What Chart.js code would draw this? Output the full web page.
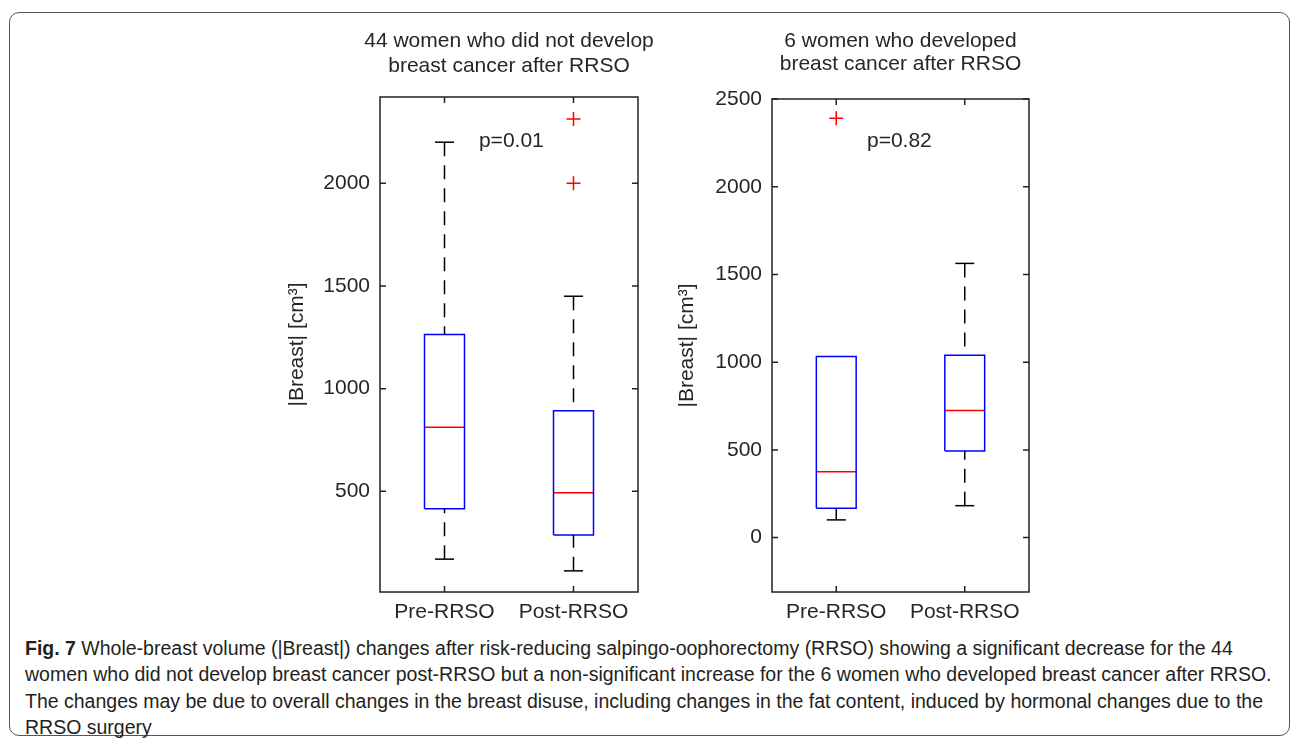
<!DOCTYPE html>
<html>
<head>
<meta charset="utf-8">
<script src="https://cdn.jsdelivr.net/npm/chart.js@4.4.1/dist/chart.umd.min.js"></script>
<style>
  body { margin: 0; background: #fff; width: 1295px; height: 742px; overflow: hidden; position: relative; }
  .frame { position: absolute; left: 9px; top: 12px; width: 1279px; height: 722px; border: 1.5px solid #555; border-radius: 10px; }
  canvas { position: absolute; }
  #leftChart { left: 260px; top: 12px; }
  #rightChart { left: 650px; top: 12px; }
  .caption { position: absolute; left: 25px; top: 635px; font-family: 'Liberation Sans', Arial, sans-serif; font-size: 19.5px; line-height: 26.3px; color: #231f20; white-space: nowrap; }
  .caption b { font-weight: bold; }
</style>
</head>
<body>
<div class="frame"></div>
<canvas id="leftChart" width="400" height="620"></canvas>
<canvas id="rightChart" width="400" height="620"></canvas>
<div class="caption">
  <b>Fig. 7</b> Whole-breast volume (|Breast|) changes after risk-reducing salpingo-oophorectomy (RRSO) showing a significant decrease for the 44<br>
  women who did not develop breast cancer post-RRSO but a non-significant increase for the 6 women who developed breast cancer after RRSO.<br>
  The changes may be due to overall changes in the breast disuse, including changes in the fat content, induced by hormonal changes due to the<br>
  RRSO surgery
</div>
<script>
// box plot values (cm^3)
const categories = ['Pre-RRSO', 'Post-RRSO'];

// 44 women who did not develop breast cancer
const noCancerLow = [170, 113];
const noCancerQ1 = [415, 287];
const noCancerMedian = [812, 493];
const noCancerQ3 = [1264, 892];
const noCancerHigh = [2200, 1450];
const noCancerOutliers = [[], [2313, 2000]];
const noCancerTicks = [500, 1000, 1500, 2000];

// 6 women who developed breast cancer
const cancerLow = [101, 182];
const cancerQ1 = [168, 494];
const cancerMedian = [376, 724];
const cancerQ3 = [1032, 1040];
const cancerHigh = [1032, 1563];
const cancerOutliers = [[2390], []];
const cancerTicks = [0, 500, 1000, 1500, 2000, 2500];

const FONT = "'Liberation Sans', Arial, sans-serif";
const TEXT = '#262626';
const BOX_HALF = 0.155;   // box half width in x units
const CAP_HALF = 0.074;   // whisker cap half width

/**
 * Builds the line/scatter datasets that make up one boxplot panel.
 */
function boxDatasets(low, q1, med, q3, high, outliers) {
  const sets = [];
  const seg = (pts, color, dash) => ({
    data: pts, showLine: true, borderColor: color, borderWidth: 1.5,
    borderDash: dash || [], pointRadius: 0, tension: 0, fill: false,
  });
  categories.forEach((c, i) => {
    const x = i + 1;
    // whiskers (dashed) and caps
    if (high[i] > q3[i]) {
      sets.push(seg([{ x, y: high[i] }, { x, y: q3[i] }], '#000', [14, 9]));
      sets.push(seg([{ x: x - CAP_HALF, y: high[i] }, { x: x + CAP_HALF, y: high[i] }], '#000'));
    }
    if (low[i] < q1[i]) {
      sets.push(seg([{ x, y: low[i] }, { x, y: q1[i] }], '#000', [14, 9]));
      sets.push(seg([{ x: x - CAP_HALF, y: low[i] }, { x: x + CAP_HALF, y: low[i] }], '#000'));
    }
    // box
    sets.push(seg([
      { x: x - BOX_HALF, y: q1[i] }, { x: x + BOX_HALF, y: q1[i] },
      { x: x + BOX_HALF, y: q3[i] }, { x: x - BOX_HALF, y: q3[i] },
      { x: x - BOX_HALF, y: q1[i] },
    ], '#0000ff'));
    // median
    sets.push(seg([{ x: x - BOX_HALF, y: med[i] }, { x: x + BOX_HALF, y: med[i] }], '#ff0000'));
    // outliers
    if (outliers[i].length) {
      sets.push({
        data: outliers[i].map((v) => ({ x, y: v })),
        pointStyle: 'cross', pointRadius: 7, borderColor: '#ff0000', borderWidth: 1.5,
        showLine: false,
      });
    }
  });
  return sets;
}

// axes box with inward ticks, the panel title (centred on the plot) and the p-value note
const framePlugin = {
  id: 'frame',
  afterDraw(chart, args, opts) {
    const { ctx, chartArea: a, scales } = chart;
    ctx.save();
    ctx.strokeStyle = '#222';
    ctx.lineWidth = 1.5;
    ctx.strokeRect(a.left, a.top, a.right - a.left, a.bottom - a.top);
    ctx.beginPath();
    scales.y.ticks.forEach((t) => {
      const py = scales.y.getPixelForValue(t.value);
      ctx.moveTo(a.left, py); ctx.lineTo(a.left + 6, py);
      ctx.moveTo(a.right, py); ctx.lineTo(a.right - 6, py);
    });
    scales.x.ticks.forEach((t) => {
      const px = scales.x.getPixelForValue(t.value);
      ctx.moveTo(px, a.top); ctx.lineTo(px, a.top + 6);
      ctx.moveTo(px, a.bottom); ctx.lineTo(px, a.bottom - 6);
    });
    ctx.stroke();
    ctx.fillStyle = TEXT;
    ctx.font = '21px ' + FONT;
    ctx.textBaseline = 'middle';
    ctx.textAlign = 'center';
    const cx = (a.left + a.right) / 2;
    opts.title.forEach((line, i) => ctx.fillText(line, cx, opts.titleY[i]));
    ctx.textAlign = 'left';
    ctx.fillText(opts.note, scales.x.getPixelForValue(opts.noteX), scales.y.getPixelForValue(opts.noteY));
    ctx.restore();
  },
};

function makeChart(id, sets, yMin, yMax, yTicks, axisWidth, rightPad, topPad, frameOpts) {
  return new Chart(document.getElementById(id), {
    type: 'scatter',
    data: { datasets: sets },
    plugins: [framePlugin],
    options: {
      responsive: false,
      animation: false,
      devicePixelRatio: 1,
      layout: { padding: { left: 0, right: rightPad, top: topPad, bottom: 0 } },
      plugins: {
        legend: { display: false },
        tooltip: { enabled: false },
        frame: frameOpts,
      },
      scales: {
        x: {
          type: 'linear', min: 0.5, max: 2.5,
          afterBuildTicks: (s) => { s.ticks = categories.map((c, i) => ({ value: i + 1 })); },
          afterFit: (s) => { s.height = 40; },
          ticks: {
            color: TEXT, font: { family: FONT, size: 21 }, padding: 8, maxRotation: 0,
            callback: (v) => categories[v - 1],
          },
          grid: { display: false, drawTicks: false },
          border: { display: false },
        },
        y: {
          min: yMin, max: yMax,
          afterBuildTicks: (s) => { s.ticks = yTicks.map((v) => ({ value: v })); },
          afterFit: (s) => { s.width = axisWidth; },
          ticks: { color: TEXT, font: { family: FONT, size: 21 }, padding: 10, callback: (v) => String(v) },
          grid: { display: false, drawTicks: false },
          border: { display: false },
          title: {
            display: true, text: '|Breast| [cm³]', color: TEXT,
            font: { family: FONT, size: 21 }, padding: { top: 25, bottom: 0 },
          },
        },
      },
    },
  });
}

document.addEventListener('DOMContentLoaded', () => {
  makeChart('leftChart',
    boxDatasets(noCancerLow, noCancerQ1, noCancerMedian, noCancerQ3, noCancerHigh, noCancerOutliers),
    10, 2420, noCancerTicks, 120, 22, 85,
    { title: ['44 women who did not develop', 'breast cancer after RRSO'], titleY: [29, 54],
      note: 'p=0.01', noteX: 1.267, noteY: 2207 });
  makeChart('rightChart',
    boxDatasets(cancerLow, cancerQ1, cancerMedian, cancerQ3, cancerHigh, cancerOutliers),
    -310, 2500, cancerTicks, 122, 21, 87,
    { title: ['6 women who developed', 'breast cancer after RRSO'], titleY: [29, 52],
      note: 'p=0.82', noteX: 1.239, noteY: 2257 });
});
</script>
</body>
</html>
